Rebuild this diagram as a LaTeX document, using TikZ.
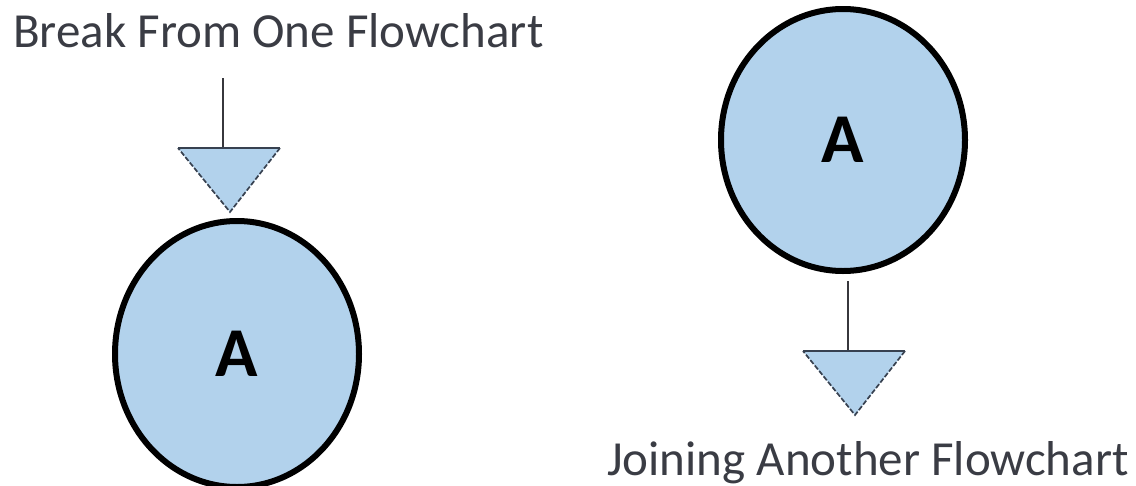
\documentclass[tikz,border=0pt]{standalone}
\usepackage{fontspec}
\setmainfont{Carlito}
\usetikzlibrary{shapes.geometric}
\definecolor{fillblue}{RGB}{178,210,236}
\definecolor{textgray}{RGB}{58,60,68}
\definecolor{linegray}{RGB}{55,55,60}
\definecolor{tribord}{RGB}{55,65,80}
\tikzset{
  connector/.style={linegray, line width=1.8pt},
  oval/.style={ellipse, draw=black, line width=6pt, fill=fillblue,
    minimum width=244pt, minimum height=262pt, inner sep=0pt,
    font=\fontsize{70}{74}\selectfont\bfseries, text=black},
  trifill/.style={fill=fillblue},
  tridash/.style={tribord, line width=1.7pt, dash pattern=on 5pt off 2pt},
  tritop/.style={tribord, line width=2.2pt},
  caption/.style={font=\fontsize{49}{55}\selectfont, text=textgray, inner sep=0pt, anchor=base west}
}
\begin{document}
\begin{tikzpicture}[x=1pt,y=-1pt]
\useasboundingbox (0,0) rectangle (1136,485);
% left group
\node[caption] (cap1) at (13,47) {Break From One Flowchart};
\coordinate (s1) at (223,78);
\coordinate (t1l) at (178,148);
\coordinate (t1r) at (280,148);
\coordinate (t1m) at (223,148);
\coordinate (t1a) at (230,212);
\draw[connector] (s1) -- (t1m);
\fill[trifill] (t1l) -- (t1r) -- (t1a) -- cycle;
\draw[tridash] (t1r) -- (t1a) -- (t1l);
\draw[tritop] (t1l) -- (t1r);
\node[oval, minimum height=266pt] (c1) at (237,354) {A};
% right group
\node[oval] (c2) at (843,140) {A};
\coordinate (t2l) at (803,351);
\coordinate (t2r) at (905,351);
\coordinate (t2a) at (855,415);
\coordinate (t2m) at (848,351);
\draw[connector] ([yshift=-7pt]c2.south) ++(5,0) coordinate (s2) -- (t2m);
\fill[trifill] (t2l) -- (t2r) -- (t2a) -- cycle;
\draw[tridash] (t2r) -- (t2a) -- (t2l);
\draw[tritop] (t2l) -- (t2r);
\node[caption] (cap2) at (607,475) {Joining Another Flowchart};
\end{tikzpicture}
\end{document}
